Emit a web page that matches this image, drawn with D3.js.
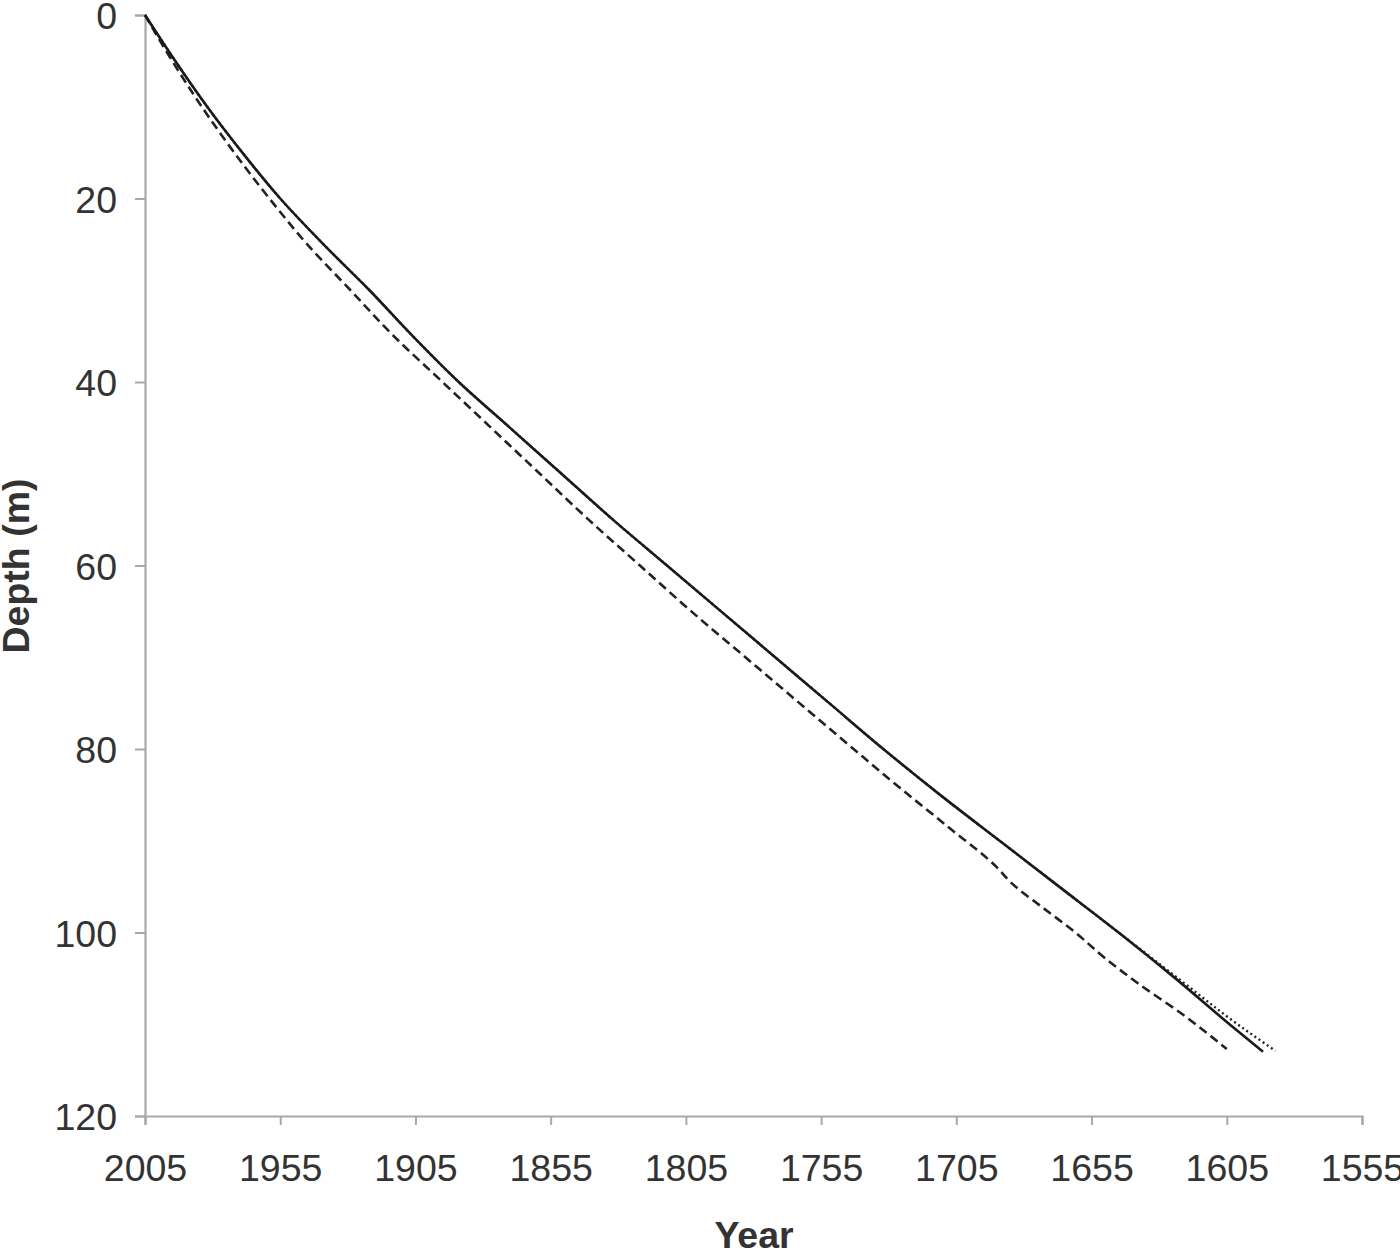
<!DOCTYPE html>
<html>
<head>
<meta charset="utf-8">
<script src="https://cdn.jsdelivr.net/npm/d3@7"></script>
<style>
  html, body { margin: 0; padding: 0; background: #fff; }
  svg { display: block; }
</style>
</head>
<body>
<svg id="chart" width="1400" height="1249"></svg>
<script>
// ---- Data (Year, Depth m) ----
const solidYears  = [2005, 1995, 1982, 1969, 1955, 1939, 1922, 1906, 1889, 1870, 1851, 1832, 1812, 1792, 1772, 1752, 1732, 1711, 1689, 1667, 1645, 1624, 1604, 1591.6];
const solidDepths = [0, 4.5, 10, 15, 20, 25, 30, 35, 40, 45, 50, 55, 60, 65, 70, 75, 80, 85, 90, 95, 100, 105, 110, 113];

const dashedYears  = [2005, 1996, 1984, 1972, 1959, 1945, 1929, 1913, 1895, 1877, 1859, 1841, 1822, 1803, 1783, 1763, 1743, 1726, 1708, 1690, 1685, 1673, 1661, 1650, 1638, 1621, 1605];
const dashedDepths = [0, 4.5, 10, 15, 20, 25, 30, 35, 40, 45, 50, 55, 60, 65, 70, 75, 80, 84.2, 88.5, 92.9, 94.5, 97.3, 100, 102.8, 105.5, 109, 112.7];

const dottedYears  = [2005, 1995, 1982, 1969, 1955, 1939, 1922, 1906, 1889, 1870, 1851, 1832, 1812, 1792, 1772, 1752, 1732, 1711, 1689, 1667, 1645, 1623, 1601, 1587];
const dottedDepths = [0, 4.5, 10, 15, 20, 25, 30, 35, 40, 45, 50, 55, 60, 65, 70, 75, 80, 85, 90, 95, 100, 105, 110, 112.9];

const xTicks = [2005, 1955, 1905, 1855, 1805, 1755, 1705, 1655, 1605, 1555];
const yTicks = [0, 20, 40, 60, 80, 100, 120];

const xTitle = "Year";
const yTitle = "Depth (m)";

// ---- Layout ----
const svg = d3.select("#chart");
const plotL = 145, plotR = 1362, plotT = 15, plotB = 1116;

const x = d3.scaleLinear().domain([2005, 1555]).range([plotL, plotR]);
const y = d3.scaleLinear().domain([0, 120]).range([plotT, plotB]);

const axisColor = "#a8a8a8";
const textColor = "#333";
const fontFam = "'Liberation Sans', Arial, Helvetica, sans-serif";

// X axis
const xAxis = svg.append("g")
  .attr("transform", `translate(0,${plotB})`)
  .call(d3.axisBottom(x).tickValues(xTicks).tickFormat(d3.format("d")).tickSize(9).tickPadding(29));
// Y axis
const yAxis = svg.append("g")
  .attr("transform", `translate(${plotL},0)`)
  .call(d3.axisLeft(y).tickValues(yTicks).tickFormat(d3.format("d")).tickSize(10).tickPadding(18));

[xAxis, yAxis].forEach(g => {
  g.select(".domain").attr("stroke", axisColor).attr("stroke-width", 2.2);
  g.selectAll(".tick line").attr("stroke", axisColor).attr("stroke-width", 2);
  g.selectAll(".tick text")
    .attr("fill", textColor)
    .style("font-family", fontFam)
    .style("font-size", "37.5px");
});
xAxis.selectAll(".tick text").attr("dy", "0.71em");
yAxis.selectAll(".tick text").attr("dy", "0.36em");

// Axis titles
svg.append("text")
  .attr("x", 754).attr("y", 1248)
  .attr("text-anchor", "middle")
  .attr("fill", textColor)
  .style("font-family", fontFam)
  .style("font-weight", "bold")
  .style("font-size", "37.5px")
  .text(xTitle);

svg.append("text")
  .attr("transform", "translate(29,566) rotate(-90)")
  .attr("text-anchor", "middle")
  .attr("fill", textColor)
  .style("font-family", fontFam)
  .style("font-weight", "bold")
  .style("font-size", "37.5px")
  .text(yTitle);

// Lines
const line = d3.line()
  .x(d => x(d[0]))
  .y(d => y(d[1]))
  .curve(d3.curveMonotoneY);

const series = [
  { years: dottedYears, depths: dottedDepths, dash: "2,3", width: 2.4, color: "#222" },
  { years: dashedYears, depths: dashedDepths, dash: "9,5", width: 2.6, color: "#222" },
  { years: solidYears,  depths: solidDepths,  dash: null,  width: 2.6, color: "#1a1a1a" }
];

series.forEach(s => {
  const pts = s.years.map((yr, i) => [yr, s.depths[i]]);
  svg.append("path")
    .datum(pts)
    .attr("fill", "none")
    .attr("stroke", s.color)
    .attr("stroke-width", s.width)
    .attr("stroke-dasharray", s.dash)
    .attr("d", line);
});
</script>
</body>
</html>
